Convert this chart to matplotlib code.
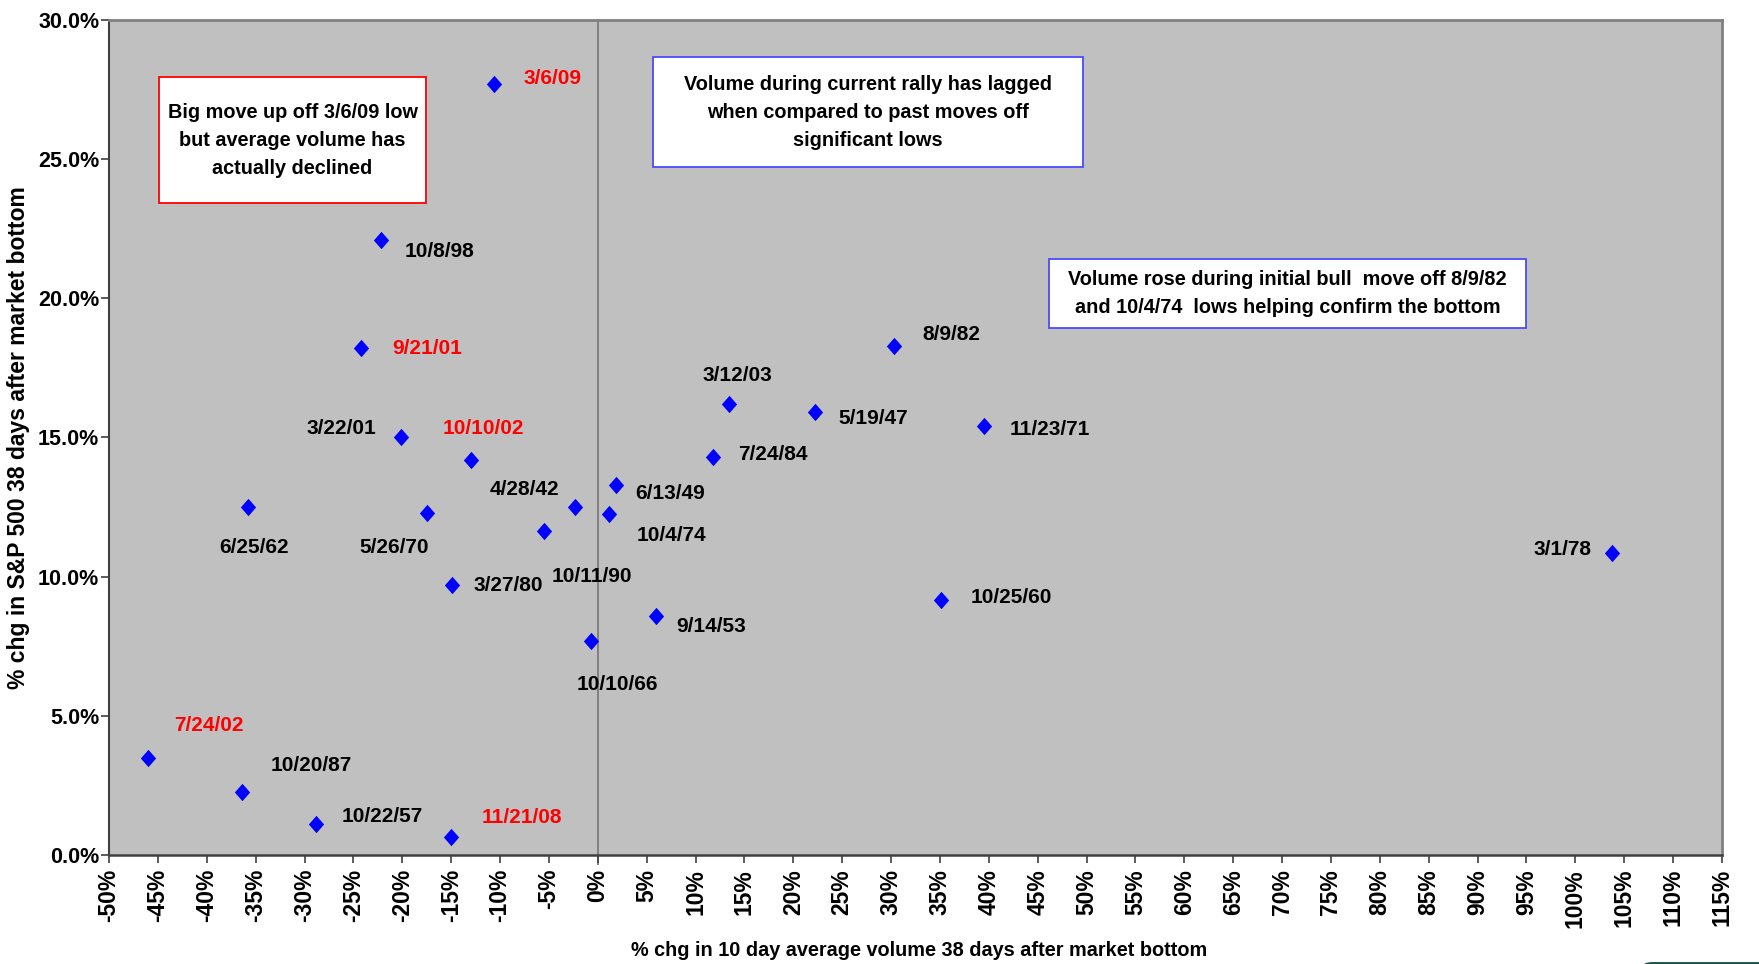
import matplotlib.pyplot as plt
import matplotlib.patches as mpatches
from matplotlib.path import Path
import numpy as np

# Market bottoms: % change in 10 day avg volume vs % change in S&P 500, 38 days after the low
dates = ["3/6/09", "10/8/98", "9/21/01", "3/22/01", "10/10/02", "6/25/62",
         "5/26/70", "3/27/80", "4/28/42", "10/11/90", "6/13/49", "10/4/74",
         "10/10/66", "9/14/53", "3/12/03", "7/24/84", "5/19/47", "8/9/82",
         "11/23/71", "10/25/60", "3/1/78", "7/24/02", "10/20/87", "10/22/57",
         "11/21/08"]
vol_chg = [-10.6, -22.2, -24.2, -20.1, -13.0, -35.8,
           -17.5, -14.9, -2.3, -5.5, 1.9, 1.1,
           -0.7, 6.0, 13.4, 11.8, 22.2, 30.3,
           39.5, 35.1, 103.7, -46.0, -36.4, -28.8,
           -15.0]
spx_chg = [27.7, 22.1, 18.2, 15.0, 14.2, 12.5,
           12.3, 9.7, 12.5, 11.65, 13.3, 12.25,
           7.7, 8.6, 16.2, 14.3, 15.9, 18.3,
           15.4, 9.15, 10.85, 3.5, 2.26, 1.13,
           0.65]
recent = ["3/6/09", "9/21/01", "10/10/02", "7/24/02", "11/21/08"]

# label placement: pixel offset from the point (dx right, dy down) and alignment
label_pos = {
    "3/6/09": (29, -6, "left"), "10/8/98": (24, 12, "left"),
    "9/21/01": (31, 0, "left"), "3/22/01": (-25, -9, "right"),
    "10/10/02": (-28, -31, "left"), "6/25/62": (6, 40, "center"),
    "5/26/70": (-33, 35, "center"), "3/27/80": (21, 0, "left"),
    "4/28/42": (-16, -18, "right"), "10/11/90": (48, 46, "center"),
    "6/13/49": (19, 9, "left"), "10/4/74": (28, 21, "left"),
    "10/10/66": (26, 44, "center"), "9/14/53": (20, 11, "left"),
    "3/12/03": (9, -29, "center"), "7/24/84": (25, -2, "left"),
    "5/19/47": (24, 6, "left"), "8/9/82": (28, -11, "left"),
    "11/23/71": (26, 3, "left"), "10/25/60": (30, -3, "left"),
    "3/1/78": (-20, -4, "right"), "7/24/02": (26, -32, "left"),
    "10/20/87": (29, -27, "left"), "10/22/57": (25, -7, "left"),
    "11/21/08": (30, -19, "left"),
}

W, H = 1759, 964
font = ["Liberation Sans", "DejaVu Sans"]

fig = plt.figure(figsize=(W / 100, H / 100), dpi=100)
ax = fig.add_axes([109 / W, 1 - 855 / H, (1722 - 109) / W, (855 - 20) / H])
ax.set_facecolor("#c0c0c0")

diamond = Path([(0, 1), (0.88, 0), (0, -1), (-0.88, 0), (0, 1)],
               [Path.MOVETO, Path.LINETO, Path.LINETO, Path.LINETO, Path.CLOSEPOLY])
# zero line runs a little below the axis like a tick
ax.axvline(0, ymin=-0.011, ymax=1, color="#808080", lw=1.4, zorder=1, clip_on=False)
ax.plot(vol_chg, spx_chg, linestyle="none", marker=diamond, markersize=12.5,
        color="#0000ff", markeredgewidth=0, zorder=3)

for d, x, y in zip(dates, vol_chg, spx_chg):
    dx, dy, ha = label_pos[d]
    ax.annotate(d, (x, y), xytext=(dx, -dy), textcoords="offset pixels",
                ha=ha, va="center", fontsize=15, fontweight="bold",
                family=font, color="#ff0000" if d in recent else "black")

ax.set_xlim(-50, 115)
ax.set_ylim(0, 30)
ax.set_xticks(np.arange(-50, 116, 5))
ax.set_xticklabels([f"{v}%" for v in range(-50, 116, 5)], rotation=90,
                   fontsize=16.5, fontweight="bold", family=font)
ax.set_yticks(np.arange(0, 31, 5))
ax.set_yticklabels([f"{v:.1f}%" for v in range(0, 31, 5)],
                   fontsize=15.5, fontweight="bold", family=font)
ax.tick_params(axis="both", direction="out", length=6, width=1.2, color="#404040")
ax.tick_params(axis="x", pad=4)
ax.tick_params(axis="y", pad=1)

for s in ["top", "right"]:
    ax.spines[s].set_color("#808080")
    ax.spines[s].set_linewidth(2)
ax.spines["left"].set_color("#404040")
ax.spines["bottom"].set_color("#404040")
ax.spines["left"].set_linewidth(1.5)
ax.spines["bottom"].set_linewidth(1.8)

ax.set_ylabel("% chg in S&P 500 38 days after market bottom", fontsize=16.5,
              fontweight="bold", family=font, labelpad=6)
fig.text(919 / W, 1 - 950 / H, "% chg in 10 day average volume 38 days after market bottom",
         ha="center", va="center", fontsize=14.3, fontweight="bold", family=font)


def note(x0, y0, x1, y1, text, edge):
    # boxed comment, corners given in figure pixels from the top left
    fig.patches.append(mpatches.Rectangle((x0 / W, 1 - y1 / H), (x1 - x0) / W, (y1 - y0) / H,
                                          transform=fig.transFigure, facecolor="white",
                                          edgecolor=edge, lw=1.3, zorder=5))
    fig.text((x0 + x1) / 2 / W, 1 - (y0 + y1) / 2 / H, text, ha="center", va="center",
             fontsize=14.3, fontweight="bold", family=font, linespacing=1.6, zorder=6)


note(159, 77, 426, 203, "Big move up off 3/6/09 low\nbut average volume has\nactually declined", "#ff0000")
note(653, 57, 1083, 167, "Volume during current rally has lagged\nwhen compared to past moves off\nsignificant lows", "#4a4aff")
note(1049, 259, 1526, 328, "Volume rose during initial bull  move off 8/9/82\nand 10/4/74  lows helping confirm the bottom", "#4a4aff")

# dark tab peeking in at the lower right corner
fig.patches.append(mpatches.FancyBboxPatch((1642 / W, -0.02), 0.1, 0.022,
                                           boxstyle="round,pad=0,rounding_size=0.006",
                                           transform=fig.transFigure, facecolor="#1d4f4a",
                                           edgecolor="none"))

fig.savefig("out.png", dpi=100)
